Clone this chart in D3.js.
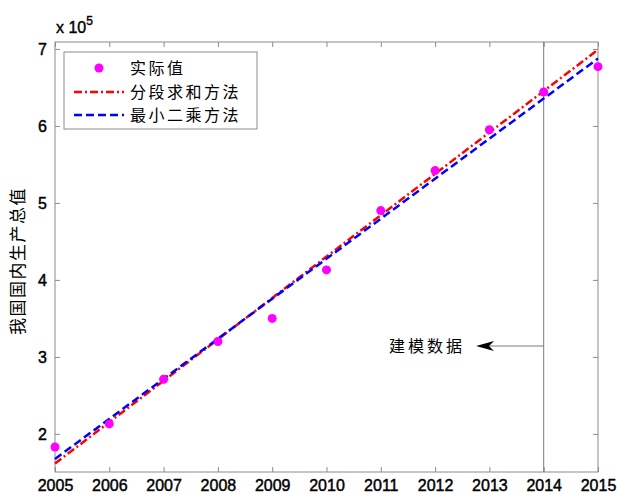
<!DOCTYPE html>
<html><head><meta charset="utf-8">
<script src="https://d3js.org/d3.v7.min.js"></script>
<style>body{margin:0;background:#fff}</style>
</head><body>
<script>
const years = [2005,2006,2007,2008,2009,2010,2011,2012,2013,2014,2015];
const actual = [1.83,2.13,2.71,3.20,3.50,4.13,4.90,5.42,5.95,6.44,6.77];
const lineYears = [2005,2015];
const piecewise = [1.615,6.99];
const leastSq = [1.675,6.875];
const yTicks = [2,3,4,5,6,7];
const legendLabels = ["实际值","分段求和方法","最小二乘方法"];
const yLabel = "我国国内生产总值";
const annot = "建模数据";

const W=617,H=493;
const m={l:55,r:598,t:42,b:472};
const svg=d3.select("body").append("svg").attr("width",W).attr("height",H);
const x=d3.scaleLinear().domain([2005,2015]).range([m.l,m.r]);
const y=d3.scaleLinear().domain([1.505,7.09]).range([m.b,m.t]);
const axisColor="#8c8c8c";
const cjk="'Noto Sans CJK SC','Noto Sans',sans-serif";
const num="'Liberation Sans',Arial,sans-serif";

// box
svg.append("rect").attr("x",m.l).attr("y",m.t).attr("width",m.r-m.l).attr("height",m.b-m.t)
  .attr("fill","none").attr("stroke",axisColor).attr("stroke-width",1);

// axes
const xb=svg.append("g").attr("transform",`translate(0,${m.b})`)
  .call(d3.axisBottom(x).tickValues(years).tickFormat(d3.format("d")).tickSize(-5).tickPadding(8));
const xt=svg.append("g").attr("transform",`translate(0,${m.t})`)
  .call(d3.axisTop(x).tickValues(years).tickFormat("").tickSize(-5));
const yl=svg.append("g").attr("transform",`translate(${m.l},0)`)
  .call(d3.axisLeft(y).tickValues(yTicks).tickFormat(d3.format("d")).tickSize(-5).tickPadding(8));
const yr=svg.append("g").attr("transform",`translate(${m.r},0)`)
  .call(d3.axisRight(y).tickValues(yTicks).tickFormat("").tickSize(-5));
[xb,xt,yl,yr].forEach(g=>{
  g.select(".domain").remove();
  g.selectAll(".tick line").attr("stroke",axisColor);
  g.selectAll("text").attr("fill","#000").attr("stroke","#000").attr("stroke-width",0.45)
    .style("font-family",num).style("font-size","16px");
});

// 2014 vertical line
svg.append("line").attr("x1",x(2014)).attr("x2",x(2014)).attr("y1",m.t).attr("y2",m.b)
  .attr("stroke","#7a7a7a").attr("stroke-width",1);

// exponent label
const ex=svg.append("text").attr("x",m.l+1).attr("y",m.t-9).style("font-family",num).style("font-size","16px")
  .attr("fill","#000").attr("stroke","#000").attr("stroke-width",0.4);
ex.append("tspan").text("x 10");
ex.append("tspan").attr("dy",-8).style("font-size","12px").text("5");

// y label
svg.append("text").attr("transform",`translate(24,${(m.t+m.b)/2+4}) rotate(-90)`)
  .attr("text-anchor","middle").style("font-family",cjk).style("font-size","17px")
  .style("letter-spacing","1.5px").text(yLabel);

// lines
const lineGen=d3.line().x(d=>x(d[0])).y(d=>y(d[1]));
svg.append("path").datum(lineYears.map((d,i)=>[d,piecewise[i]])).attr("d",lineGen)
  .attr("fill","none").attr("stroke","#ff0000").attr("stroke-width",2.5).attr("stroke-dasharray","8,3,2,3");
svg.append("path").datum(lineYears.map((d,i)=>[d,leastSq[i]])).attr("d",lineGen)
  .attr("fill","none").attr("stroke","#0000ff").attr("stroke-width",2.5).attr("stroke-dasharray","8,4");

// points
svg.selectAll("circle.pt").data(years).enter().append("circle").attr("class","pt")
  .attr("cx",d=>x(d)).attr("cy",(d,i)=>y(actual[i])).attr("r",4.5).attr("fill","#ff00ff");

// annotation arrow
svg.append("line").attr("x1",x(2014)).attr("x2",480).attr("y1",346).attr("y2",346).attr("stroke","#7a7a7a").attr("stroke-width",1);
svg.append("path").attr("d",`M476,346 L494,341 L489,346 L494,351 Z`).attr("fill","#000");
svg.append("text").attr("x",389).attr("y",352).style("font-family",cjk).style("font-size","16px")
  .style("letter-spacing","3px").text(annot);

// legend
svg.append("rect").attr("x",64).attr("y",52).attr("width",193).attr("height",77)
  .attr("fill","#fff").attr("stroke",axisColor);
const ly=[68,92,115];
svg.append("circle").attr("cx",99).attr("cy",ly[0]).attr("r",4.5).attr("fill","#ff00ff");
svg.append("line").attr("x1",74).attr("x2",124).attr("y1",ly[1]).attr("y2",ly[1]).attr("stroke","#ff0000").attr("stroke-width",2.5).attr("stroke-dasharray","8,3,2,3");
svg.append("line").attr("x1",74).attr("x2",124).attr("y1",ly[2]).attr("y2",ly[2]).attr("stroke","#0000ff").attr("stroke-width",2.5).attr("stroke-dasharray","8,4");
legendLabels.forEach((t,i)=>{
  svg.append("text").attr("x",130).attr("y",ly[i]+6).style("font-family",cjk).style("font-size","16px")
    .style("letter-spacing","2.5px").attr("fill","#000").text(t);
});
</script>
</body></html>
